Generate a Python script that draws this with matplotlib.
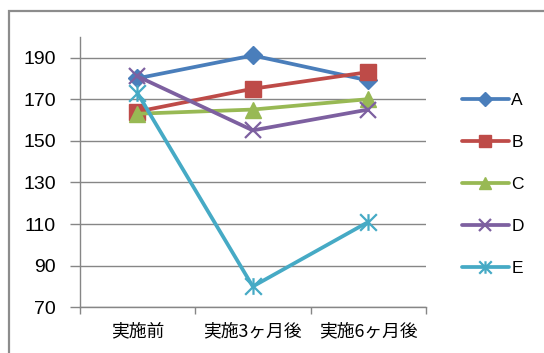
import matplotlib
matplotlib.use('Agg')
import matplotlib.pyplot as plt
from matplotlib.patches import Rectangle
from matplotlib.path import Path

plt.rcParams['font.family'] = ['Liberation Sans', 'Noto Sans CJK JP', 'DejaVu Sans']

# data
categories = ['実施前', '実施3ヶ月後', '実施6ヶ月後']
series_names = ['A', 'B', 'C', 'D', 'E']
a_vals = [180, 191, 179]
b_vals = [164, 175, 183]
c_vals = [163, 165, 170]
d_vals = [181, 155, 165]
e_vals = [173, 80, 111]
y_ticks = [70, 90, 110, 130, 150, 170, 190]

# Excel 2007 style colours and markers
colors = ['#4A7EBB', '#BE4B48', '#98B954', '#7D60A0', '#46AAC5']
star = Path([(-1, -1), (1, 1), (-1, 1), (1, -1), (0, -1), (0, 1)],
            [Path.MOVETO, Path.LINETO, Path.MOVETO, Path.LINETO,
             Path.MOVETO, Path.LINETO])
markers = ['D', 's', '^', 'x', star]
msizes = [9, 11.5, 11.5, 12, 12]

fig = plt.figure(figsize=(5.44, 3.53), dpi=100)
ax = fig.add_axes([0.1463, 0.1295, 0.7831 - 0.1463, 0.896 - 0.1295])

x = list(range(len(categories)))
all_vals = [a_vals, b_vals, c_vals, d_vals, e_vals]
for name, vals, col, mk, ms in zip(series_names, all_vals, colors, markers, msizes):
    filled = mk in ('D', 's', '^')
    ax.plot(x, vals, color=col, lw=2.7, marker=mk, ms=ms,
            mfc=col if filled else 'none', mec=col,
            mew=1 if filled else 1.6, label=name, solid_capstyle='round')

ax.set_xlim(-0.5, 2.5)
ax.set_ylim(70, 200)
ax.set_yticks(y_ticks)
ax.set_yticklabels([str(v) for v in y_ticks], fontsize=14)
ax.set_xticks(x)
ax.set_xticklabels(categories, fontsize=12.8, family=['Noto Sans CJK JP'])
ax.set_xticks([-0.5, 0.5, 1.5, 2.5], minor=True)
ax.tick_params(axis='x', which='major', length=0, pad=11)
ax.tick_params(axis='x', which='minor', length=5, width=1, color='#868686')
ax.tick_params(axis='y', length=7, width=1, color='#868686', pad=10)

ax.grid(axis='y', color='#868686', lw=1)
ax.set_axisbelow(True)
for side in ('top', 'right'):
    ax.spines[side].set_visible(False)
for side in ('left', 'bottom'):
    ax.spines[side].set_color('#868686')
    ax.spines[side].set_linewidth(1)

ax.legend(loc='center left', bbox_to_anchor=(0.849, 0.477),
          bbox_transform=fig.transFigure, frameon=False, fontsize=12.5,
          numpoints=1, markerscale=0.75, handlelength=2.7,
          handletextpad=0.15, labelspacing=1.55, borderpad=0,
          borderaxespad=0)

# chart area border (cropped on right and bottom)
fig.patches.append(Rectangle((0.0165, -0.1), 1.2, 0.969 + 0.1,
                             transform=fig.transFigure, fill=False,
                             ec='#8c8c8c', lw=1.6))

fig.savefig('out.png', dpi=100)
